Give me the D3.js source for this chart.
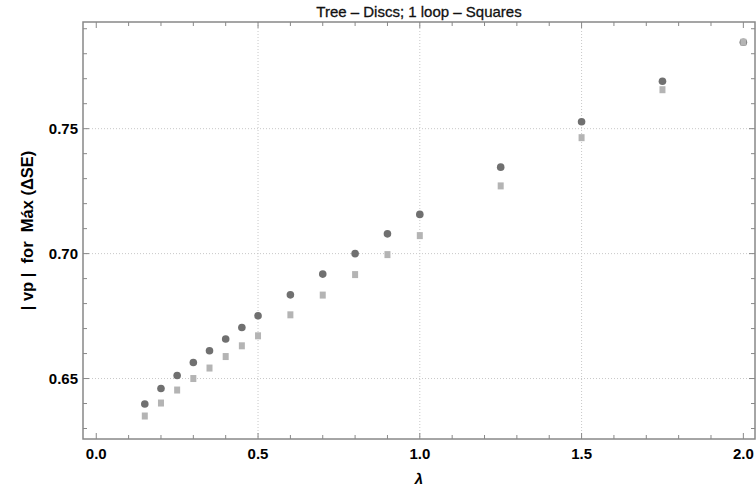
<!DOCTYPE html>
<html>
<head>
<meta charset="utf-8">
<script src="https://cdn.jsdelivr.net/npm/d3@7"></script>
<style>
  body { margin: 0; background: #fff; }
  text { font-family: "Liberation Sans", Arial, sans-serif; }
</style>
</head>
<body>
<div id="chart"></div>
<script>
var lambdas = [0.15, 0.2, 0.25, 0.3, 0.35, 0.4, 0.45, 0.5, 0.6, 0.7, 0.8, 0.9, 1.0, 1.25, 1.5, 1.75, 2.0];
var treeDiscs = [0.6398, 0.6460, 0.6512, 0.6564, 0.6611, 0.6658, 0.6704, 0.6751, 0.6835, 0.6918, 0.7000, 0.7079, 0.7157, 0.7346, 0.7528, 0.7690, 0.7846];
var loopSquares = [0.6350, 0.6402, 0.6454, 0.6500, 0.6542, 0.6588, 0.6631, 0.6671, 0.6755, 0.6834, 0.6916, 0.6996, 0.7072, 0.7271, 0.7464, 0.7656, 0.7846];
var xTicks = [0, 0.5, 1.0, 1.5, 2.0];
var yTicks = [0.65, 0.70, 0.75];

var width = 756, height = 493;
var margin = {top: 22, right: 1, bottom: 54, left: 83};

var svg = d3.select("#chart").append("svg")
  .attr("width", width)
  .attr("height", height);

var x = d3.scaleLinear().domain([-0.041, 2.036]).range([margin.left, width - margin.right]);
var y = d3.scaleLinear().domain([0.6258, 0.7927]).range([height - margin.bottom, margin.top]);

var x0 = x.range()[0], x1 = x.range()[1];
var y0 = y.range()[0], y1 = y.range()[1];

// grid lines
var grid = svg.append("g").attr("stroke", "#c8c8c8").attr("stroke-dasharray", "1,2");
grid.selectAll(".gx").data([0.5, 1.0, 1.5]).enter().append("line")
  .attr("x1", function(d){ return x(d); }).attr("x2", function(d){ return x(d); })
  .attr("y1", y1).attr("y2", y0);
grid.selectAll(".gy").data(yTicks).enter().append("line")
  .attr("y1", function(d){ return y(d); }).attr("y2", function(d){ return y(d); })
  .attr("x1", x0).attr("x2", x1);

// ticks on all four sides, pointing inward
var xMinor = d3.range(0, 2.01, 0.1);
var yMinor = d3.range(0.63, 0.7901, 0.01);
function isMajor(v, list){ return list.some(function(t){ return Math.abs(t - v) < 1e-6; }); }

var ticks = svg.append("g").attr("stroke", "#888").attr("stroke-width", 1);
xMinor.forEach(function(v){
  var len = isMajor(v, xTicks) ? 6 : 4;
  ticks.append("line").attr("x1", x(v)).attr("x2", x(v)).attr("y1", y0).attr("y2", y0 - len);
  ticks.append("line").attr("x1", x(v)).attr("x2", x(v)).attr("y1", y1).attr("y2", y1 + len);
});
yMinor.forEach(function(v){
  var len = isMajor(v, yTicks) ? 6 : 4;
  ticks.append("line").attr("y1", y(v)).attr("y2", y(v)).attr("x1", x0).attr("x2", x0 + len);
  ticks.append("line").attr("y1", y(v)).attr("y2", y(v)).attr("x1", x1).attr("x2", x1 - len);
});

// frame
svg.append("rect")
  .attr("x", x0).attr("y", y1)
  .attr("width", x1 - x0).attr("height", y0 - y1)
  .attr("fill", "none").attr("stroke", "#888").attr("stroke-width", 1.5);

// tick labels
svg.selectAll(".xl").data(xTicks).enter().append("text")
  .attr("x", function(d){ return x(d); })
  .attr("y", y0 + 20)
  .attr("text-anchor", "middle")
  .attr("font-size", 15).attr("font-weight", "bold")
  .text(function(d){ return d3.format(".1f")(d); });

svg.selectAll(".yl").data(yTicks).enter().append("text")
  .attr("x", x0 - 5)
  .attr("y", function(d){ return y(d) + 5.5; })
  .attr("text-anchor", "end")
  .attr("font-size", 15).attr("font-weight", "bold")
  .text(function(d){ return d3.format(".2f")(d); });

// data: discs first, squares on top
svg.append("g").selectAll("circle")
  .data(lambdas).enter().append("circle")
  .attr("cx", function(d){ return x(d); })
  .attr("cy", function(d, i){ return y(treeDiscs[i]); })
  .attr("r", 3.8)
  .attr("fill", "#707070");

svg.append("g").selectAll("rect")
  .data(lambdas).enter().append("rect")
  .attr("x", function(d){ return x(d) - 3; })
  .attr("y", function(d, i){ return y(loopSquares[i]) - 3.5; })
  .attr("width", 6).attr("height", 7)
  .attr("fill", "#b4b4b4");

// title and axis labels
svg.append("text")
  .attr("x", (x0 + x1) / 2).attr("y", 17)
  .attr("text-anchor", "middle")
  .attr("font-size", 15)
  .attr("fill", "#111")
  .attr("stroke", "#111").attr("stroke-width", 0.3)
  .text("Tree \u2013 Discs; 1 loop \u2013 Squares");

svg.append("text")
  .attr("x", (x0 + x1) / 2).attr("y", 484)
  .attr("text-anchor", "middle")
  .attr("font-size", 15).attr("font-weight", "bold").attr("font-style", "italic")
  .text("\u03bb");

svg.append("text")
  .attr("transform", "translate(33," + ((y0 + y1) / 2) + ") rotate(-90)")
  .attr("text-anchor", "middle")
  .attr("font-size", 16.5).attr("font-weight", "bold")
  .attr("xml:space", "preserve")
  .style("white-space", "pre")
  .text("| vp |  for  M\u00e1x (\u0394SE)");
</script>
</body>
</html>
